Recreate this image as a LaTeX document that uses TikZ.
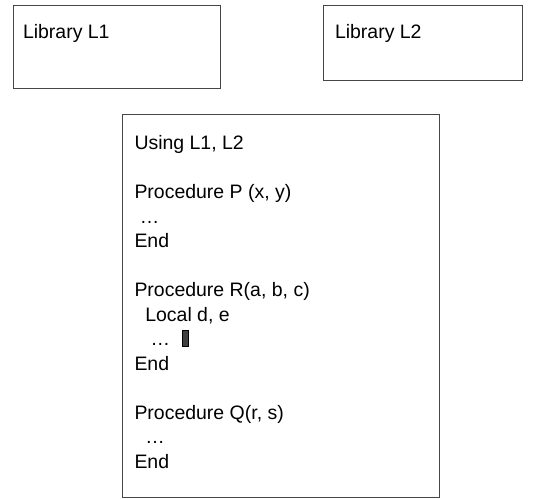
\documentclass[tikz,border=0pt]{standalone}
\usepackage{fontspec}
\setmainfont{Liberation Sans}
\newcommand{\ind}[1]{\hspace*{#1\fontdimen2\font}}

\tikzset{every picture/.style={line width=0.75pt}}
\tikzset{
  box/.style={draw={rgb, 255:red, 70; green, 70; blue, 70 }, inner sep=0pt, anchor=north west},
  codeline/.style={anchor=base west, inner sep=0pt, font=\fontsize{14.6}{18}\selectfont},
}

\begin{document}
\begin{tikzpicture}[x=0.75pt,y=0.75pt,yscale=-1,xscale=1]
\useasboundingbox (0,0) rectangle (549,499);

%Shape: Rectangle [id:lib1]
\node [box, minimum width=155.5pt, minimum height=62.5pt] (lib1) at (12.7,5) {};
%Shape: Rectangle [id:lib2]
\node [box, minimum width=149.25pt, minimum height=56.25pt] (lib2) at (323,5) {};
%Shape: Rectangle [id:prog]
\node [box, minimum width=237.75pt, minimum height=287.25pt] (prog) at (122,114) {};

% Text Node
\node [codeline] (lib1name) at (22.5,38.3) {Library L1};
% Text Node
\node [codeline] (lib2name) at (334.5,38.3) {Library L2};

% Text Nodes: program lines
\foreach \n/\txt [count=\k] in {0/{Using L1, L2}, 2/{Procedure P (x, y)}, 3/{\ind{1}…}, 4/{End},
    6/{Procedure R(a, b, c)}, 7/{\ind{2}Local d, e}, 8/{\ind{3}…}, 9/{End},
    11/{Procedure Q(r, s)}, 12/{\ind{2}…}, 13/{End}}
  \node [codeline] (line\k) at (134,{149.5+24.5*\n}) {\txt};

%Shape: Rectangle [id:cursor]
\node [draw=black, fill={rgb, 255:red, 64; green, 64; blue, 64 }, inner sep=0pt, minimum width=4.5pt, minimum height=12pt, anchor=south west] (cursor) at (182,346.5) {};

\end{tikzpicture}
\end{document}
